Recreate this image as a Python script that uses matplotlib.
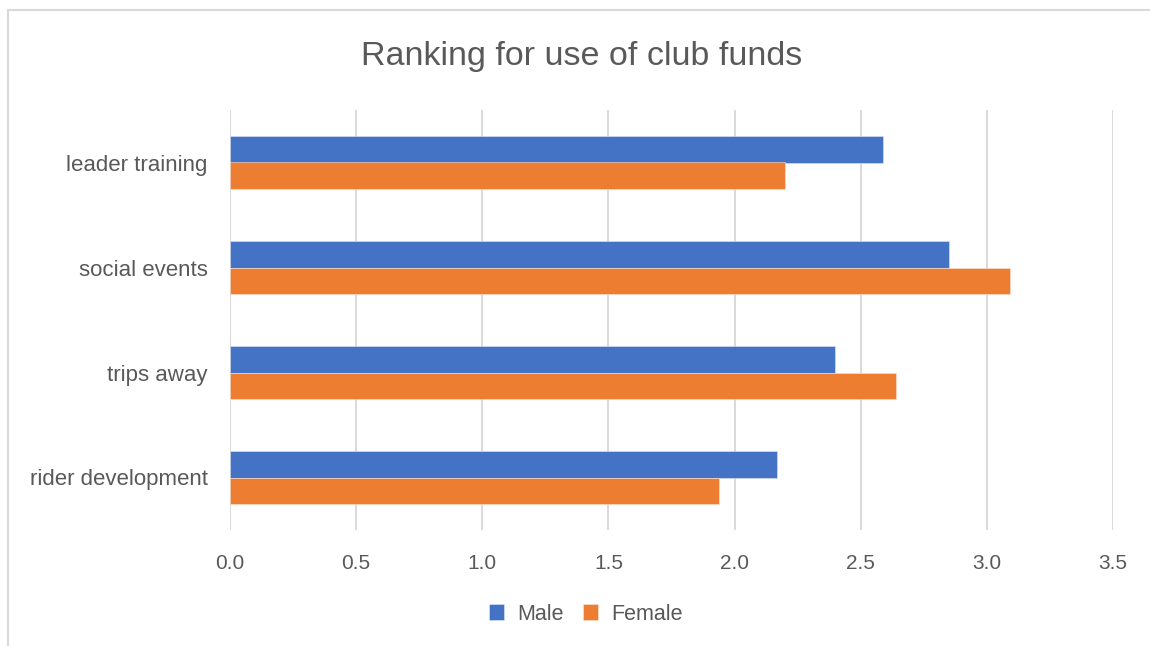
import matplotlib
matplotlib.use("Agg")
import matplotlib.pyplot as plt
import numpy as np
from matplotlib.lines import Line2D

# dados (de baixo para cima)
categorias = ["rider development", "trips away", "social events", "leader training"]
male = [2.17, 2.40, 2.85, 2.59]
female = [1.94, 2.64, 3.09, 2.20]
xticks = [0.0, 0.5, 1.0, 1.5, 2.0, 2.5, 3.0, 3.5]

AZUL = "#4472C4"
LARANJA = "#ED7D31"
CINZA_TXT = "#595959"
CINZA_GRADE = "#D9D9D9"

plt.rcParams["font.family"] = ["Liberation Sans", "DejaVu Sans"]

fig = plt.figure(figsize=(11.5, 6.46), dpi=100)
ax = fig.add_axes([230 / 1150, 116 / 646, 883 / 1150, 420 / 646])

y = np.arange(len(categorias))
h = 0.257
ax.barh(y + h / 2, male, height=h, color=AZUL, edgecolor="#dfe6f5", linewidth=0.4,
        label="Male", zorder=3)
ax.barh(y - h / 2, female, height=h, color=LARANJA, edgecolor="#fbe3d3", linewidth=0.4,
        label="Female", zorder=3)

ax.set_xlim(0, 3.5)
ax.set_ylim(-0.5, len(categorias) - 0.5)
ax.set_xticks(xticks)
ax.set_xticklabels([f"{v:.1f}" for v in xticks])
ax.set_yticks(y)
ax.set_yticklabels(categorias)
ax.tick_params(axis="x", length=0, labelsize=15, colors=CINZA_TXT, pad=17)
ax.tick_params(axis="y", length=0, labelsize=16, colors=CINZA_TXT, pad=16)
ax.grid(axis="x", color=CINZA_GRADE, linewidth=1.4, zorder=0)
for s in ax.spines.values():
    s.set_visible(False)

fig.text(582 / 1150, 1 - 57 / 646, "Ranking for use of club funds", ha="center",
         va="center", fontsize=24.5, color=CINZA_TXT)

leg = fig.legend(loc="center", bbox_to_anchor=(586 / 1150, 1 - 614 / 646), ncol=2,
                 frameon=False, fontsize=15.5, handlelength=0.7, handleheight=0.7,
                 handletextpad=0.6, columnspacing=0.9)
for t in leg.get_texts():
    t.set_color(CINZA_TXT)

# moldura do gráfico
fig.add_artist(Line2D([8 / 1150, 8 / 1150], [0, 1 - 10 / 646], color=CINZA_GRADE,
                      linewidth=1.5, transform=fig.transFigure))
fig.add_artist(Line2D([8 / 1150, 1], [1 - 10 / 646, 1 - 10 / 646], color=CINZA_GRADE,
                      linewidth=1.5, transform=fig.transFigure))

fig.savefig("out.png", dpi=100, facecolor="white")
